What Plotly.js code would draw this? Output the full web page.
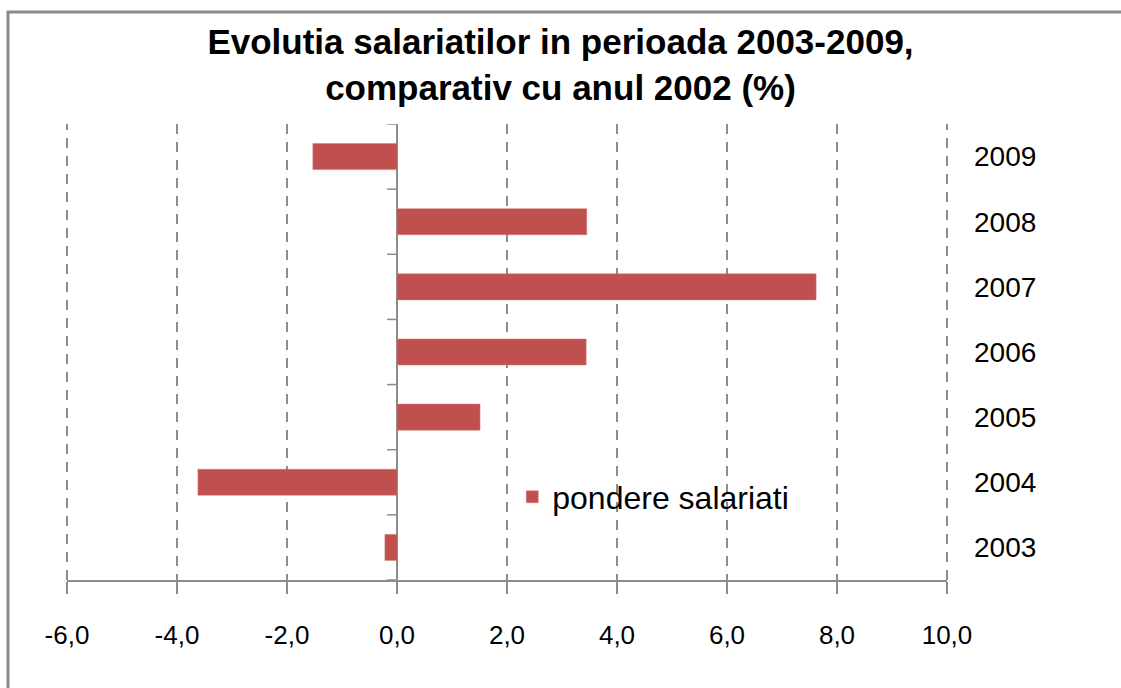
<!DOCTYPE html>
<html>
<head>
<meta charset="utf-8">
<script src="https://cdn.plot.ly/plotly-3.0.1.min.js"></script>
<style>html,body{margin:0;padding:0;background:#fff;}#chart{width:1121px;height:688px;}</style>
</head>
<body>
<div id="chart"></div>
<script>
const years = ['2003','2004','2005','2006','2007','2008','2009'];
const pondere = [-0.22, -3.62, 1.51, 3.44, 7.62, 3.45, -1.53];
const xTicks = [-6, -4, -2, 0, 2, 4, 6, 8, 10];
const xTickText = ['-6,0','-4,0','-2,0','0,0','2,0','4,0','6,0','8,0','10,0'];
const seriesName = 'pondere salariati';
const titleText = 'Evolutia salariatilor in perioada 2003-2009,<br>comparativ cu anul 2002 (%)';

const W = 1121, H = 688;
const mL = 67, mR = W - 947, mT = 124, mB = H - 580;
const pw = W - mL - mR, ph = H - mT - mB;
const gray = '#8c8c8c';
const font = 'Liberation Sans, Arial, sans-serif';

const shapes = [];
// category boundary ticks on the vertical axis at x = 0
for (let k = 0; k <= years.length; k++) {
  shapes.push({type:'line', xref:'x', yref:'y', x0:-0.18, x1:0, y0:k-0.5, y1:k-0.5,
    line:{color:gray, width:1.5}});
}
// dashed gridlines at the two range edges (plot-area edges, not clipped)
[0, 1].forEach(v => {
  shapes.push({type:'line', xref:'paper', yref:'paper', x0:v, x1:v, y0:0, y1:1, layer:'below',
    line:{color:gray, width:2, dash:'10px,8px'}});
});
// outer chart frame
shapes.push({type:'rect', xref:'paper', yref:'paper',
  x0:(8 - mL)/pw, x1:(W + 20 - mL)/pw, y0:-(H + 20 - (H - mB))/ph, y1:(H - mB - 12)/ph,
  line:{color:'#8a8a8a', width:3}, fillcolor:'rgba(0,0,0,0)', layer:'above'});

const trace = {
  type:'bar', orientation:'h', y:years, x:pondere, name:seriesName,
  marker:{color:'#C0504D', line:{color:'#d37a77', width:0.5}}, width:0.4,
  showlegend:true, hoverinfo:'x+y'
};

const layout = {
  width:W, height:H,
  margin:{l:mL, r:mR, t:mT, b:mB, pad:0},
  paper_bgcolor:'#fff', plot_bgcolor:'#fff',
  separators:', ',
  font:{family:font, color:'#000'},
  title:{text:titleText, x:0.5, xref:'container', xanchor:'center', y:1-54/H, yref:'container', yanchor:'top',
    font:{family:font, size:35, color:'#000', weight:'bold'}},
  xaxis:{range:[-6,10], tickvals:xTicks, ticktext:xTickText, showgrid:true, gridcolor:gray, gridwidth:2,
    griddash:'10px,8px', zeroline:true, zerolinecolor:gray, zerolinewidth:1.5,
    showline:true, linecolor:gray, linewidth:1.5, ticks:'outside', ticklen:12, tickwidth:1.5, tickcolor:gray,
    tickfont:{family:font, size:26, color:'#000'}, ticklabelstandoff:19, fixedrange:true},
  yaxis:{type:'category', categoryorder:'array', categoryarray:years, range:[-0.5, years.length-0.5],
    side:'right', showgrid:false, zeroline:false, showline:false, ticks:'',
    tickfont:{family:font, size:28, color:'#000'}, ticklabelstandoff:26, fixedrange:true},
  legend:{x:0.506, y:0.182, xanchor:'left', yanchor:'middle', bgcolor:'rgba(0,0,0,0)',
    font:{family:font, size:32, color:'#000'}},
  shapes:shapes,
  bargap:0.6
};

Plotly.newPlot('chart', [trace], layout, {displayModeBar:false, staticPlot:true});
</script>
</body>
</html>
